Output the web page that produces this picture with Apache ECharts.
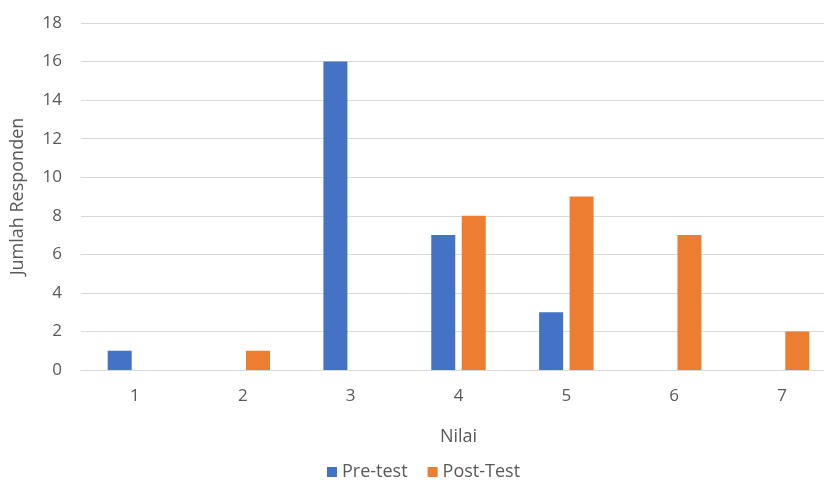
<!DOCTYPE html>
<html>
<head>
<meta charset="utf-8">
<script src="https://cdn.jsdelivr.net/npm/echarts@6/dist/echarts.min.js"></script>
<style>html,body{margin:0;padding:0;background:#fff}#c{width:824px;height:480px}</style>
</head>
<body>
<div id="c"></div>
<script>
var categories = ['1','2','3','4','5','6','7'];
var preTest = [1, 0, 16, 7, 3, 0, 0];
var postTest = [0, 1, 0, 8, 9, 7, 2];
var seriesNames = ['Pre-test', 'Post-Test'];

var chart = echarts.init(document.getElementById('c'), null, {renderer: 'canvas'});
var font = "'Open Sans', 'Noto Sans', sans-serif";
chart.setOption({
  animation: false,
  textStyle: {fontFamily: font},
  grid: {left: 81, top: 23, right: -12, height: 347, outerBoundsMode: 'none', containLabel: false},
  legend: {
    data: seriesNames,
    top: 458,
    left: 322,
    itemWidth: 10, itemHeight: 10, itemGap: 20,
    icon: 'rect',
    textStyle: {color: '#595959', fontSize: 18, fontFamily: font}
  },
  xAxis: {
    type: 'category',
    data: categories,
    name: 'Nilai',
    nameLocation: 'middle',
    nameGap: 58,
    nameTextStyle: {color: '#595959', fontSize: 18, fontFamily: font},
    axisLine: {lineStyle: {color: '#d9d9d9', width: 1}},
    axisTick: {show: false},
    axisLabel: {color: '#595959', fontSize: 17, margin: 18, fontFamily: font}
  },
  yAxis: {
    type: 'value',
    min: 0, max: 18, interval: 2,
    name: 'Jumlah Responden',
    nameLocation: 'middle',
    nameGap: 54,
    nameTextStyle: {color: '#595959', fontSize: 18, fontFamily: font},
    axisLine: {show: false},
    axisTick: {show: false},
    axisLabel: {color: '#595959', fontSize: 17, margin: 19, fontFamily: font},
    splitLine: {lineStyle: {color: '#d9d9d9', width: 1}}
  },
  series: [
    {name: seriesNames[0], type: 'bar', data: preTest, barWidth: 24, barGap: '27%', itemStyle: {color: '#4472C4'}},
    {name: seriesNames[1], type: 'bar', data: postTest, barWidth: 24, barGap: '27%', itemStyle: {color: '#ED7D31'}}
  ]
});
</script>
</body>
</html>
